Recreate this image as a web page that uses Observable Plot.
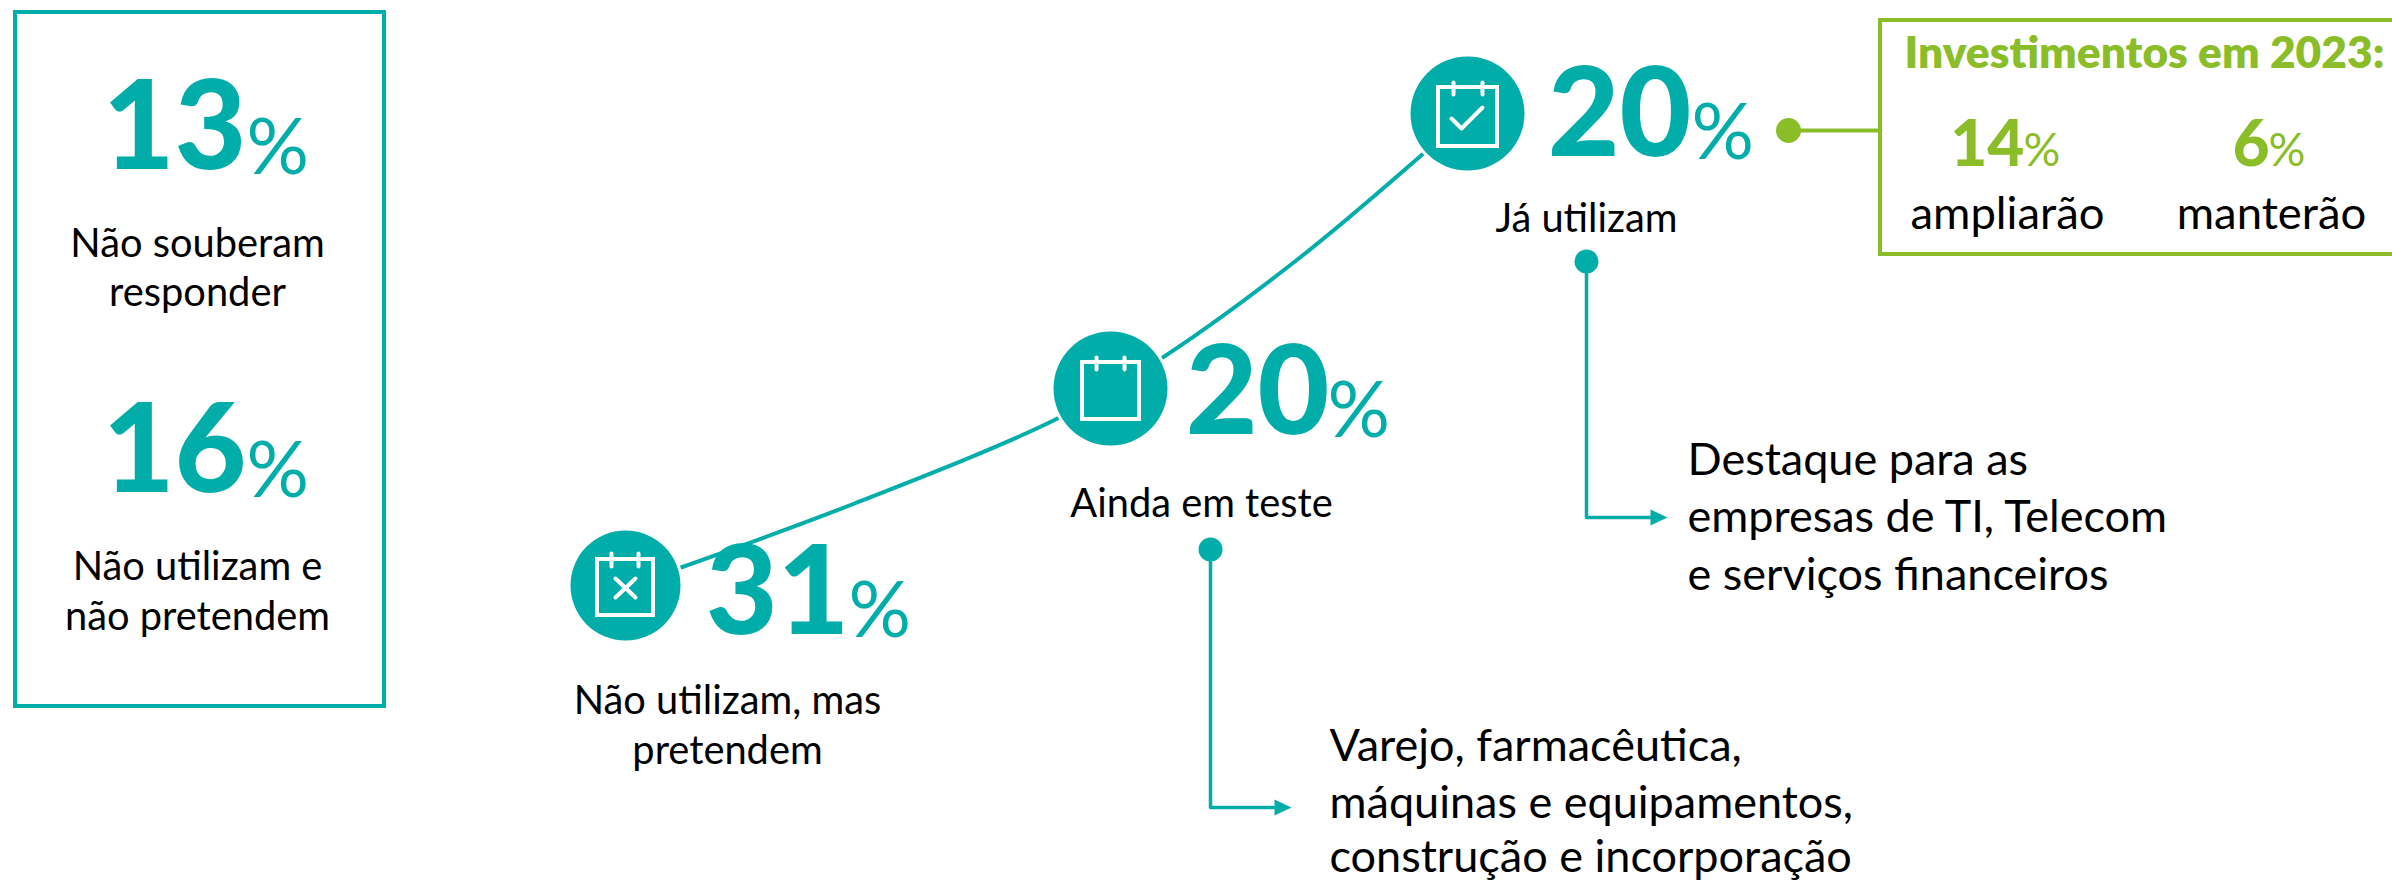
<!DOCTYPE html>
<html lang="pt">
<head>
<meta charset="utf-8">
<style>html,body{margin:0;padding:0;background:#fff;overflow:hidden}svg{display:block}</style>
<script src="https://cdn.jsdelivr.net/npm/d3@7"></script>
<script src="https://cdn.jsdelivr.net/npm/@observablehq/plot@0.6"></script>
</head>
<body>
<script>
// ---- data ----
const stageValues = [31, 20, 20];
const stageLabels = [["Não utilizam, mas", "pretendem"], ["Ainda em teste"], ["Já utilizam"]];
const sideValues = [13, 16];
const sideLabels = [["Não souberam", "responder"], ["Não utilizam e", "não pretendem"]];
const investTitle = "Investimentos em 2023:";
const investValues = [14, 6];
const investLabels = ["ampliarão", "manterão"];
const sectorNotes = [
  ["Varejo, farmacêutica,", "máquinas e equipamentos,", "construção e incorporação"],
  ["Destaque para as", "empresas de TI, Telecom", "e serviços financeiros"]
];

// ---- layout (page coordinates, kept apart from the data) ----
const W = 2392, H = 881;
const teal = "#01ADA9", green = "#8ABD27", ink = "#000";
const font = "Lato, Carlito, Calibri, sans-serif";
const stagePos = [
  {cx: 625, cy: 585, r: 55, numX: 849, pctX: 848, numB: 633, pctB: 636, labX: 727, labB: [713, 763]},
  {cx: 1110, cy: 388, r: 57, numX: 1329, pctX: 1327, numB: 433, pctB: 436, labX: 1201, labB: [516]},
  {cx: 1467, cy: 113, r: 57, numX: 1691, pctX: 1691, numB: 155, pctB: 158, labX: 1586, labB: [231]}
];
const sidePos = [
  {numX: 246, pctX: 246, numB: 168, pctB: 173, labX: 197, labB: [256, 305]},
  {numX: 246, pctX: 246, numB: 491, pctB: 496, labX: 197, labB: [579, 629]}
];
const investPos = [{numX: 2024, numB: 165, labX: 2007}, {numX: 2269, numB: 165, labX: 2271}];
const trend = [[672, 570], [854, 503], [1053, 420], [1153, 363], [1297, 259], [1440, 138]];
const calendars = [
  {x1: 597, x2: 653, y1: 559, y2: 615, r1: 611, r2: 638, rt: 553, rb: 566},
  {x1: 1082, x2: 1139, y1: 362, y2: 419, r1: 1096, r2: 1124, rt: 357, rb: 369},
  {x1: 1438, x2: 1497, y1: 87, y2: 146, r1: 1453, r2: 1482, rt: 82, rb: 94}
];
const BIG = 124, PCT = 78, LAB = 39.8, NOTE = 45, INVL = 45.4, INVT = 44.3, INV = 64, INVP = 46;

// helpers: one text mark per line, anchored on its baseline
const label = (t, x, base, size, o = {}) => Plot.text([t], {
  x: () => x, y: () => base - 0.32 * size, text: d => d, fontSize: size, fontFamily: font,
  fill: ink, textAnchor: "middle", lineAnchor: "middle", fontVariant: "normal", ...o
});
const path = (pts, o) => Plot.line(pts, {x: d => d[0], y: d => d[1], curve: "linear", ...o});

const marks = [];

// left box
marks.push(Plot.rect([0], {x1: () => 15, x2: () => 384, y1: () => 12, y2: () => 706, fill: "none", stroke: teal, strokeWidth: 4}));
sideValues.forEach((v, i) => {
  const p = sidePos[i];
  marks.push(label(String(v), p.numX, p.numB, BIG, {fill: teal, fontWeight: 900, textAnchor: "end"}));
  marks.push(label("%", p.pctX, p.pctB, PCT, {fill: teal, textAnchor: "start"}));
  sideLabels[i].forEach((t, j) => marks.push(label(t, p.labX, p.labB[j], LAB)));
});

// rising curve with three stages
marks.push(Plot.line(trend, {x: d => d[0], y: d => d[1], curve: "catmull-rom", stroke: teal, strokeWidth: 4}));
stageValues.forEach((v, i) => {
  const p = stagePos[i], c = calendars[i];
  marks.push(Plot.dot([0], {x: () => p.cx, y: () => p.cy, r: p.r + 3, fill: "#fff", stroke: "none"}));
  marks.push(Plot.dot([0], {x: () => p.cx, y: () => p.cy, r: p.r, fill: teal, stroke: "none"}));
  marks.push(Plot.rect([0], {x1: () => c.x1, x2: () => c.x2, y1: () => c.y1, y2: () => c.y2, fill: "none", stroke: "#fff", strokeWidth: 4}));
  [c.r1, c.r2].forEach(rx => marks.push(path([[rx, c.rt], [rx, c.rb]], {stroke: "#fff", strokeWidth: 4, strokeLinecap: "round"})));
  marks.push(label(String(v), p.numX, p.numB, BIG, {fill: teal, fontWeight: 900, textAnchor: "end"}));
  marks.push(label("%", p.pctX, p.pctB, PCT, {fill: teal, textAnchor: "start"}));
  stageLabels[i].forEach((t, j) => marks.push(label(t, p.labX, p.labB[j], LAB)));
});
const ln = {stroke: "#fff", strokeWidth: 4, strokeLinecap: "round", strokeLinejoin: "round"};
marks.push(path([[615, 578], [635, 597]], ln), path([[635, 578], [615, 597]], ln));
marks.push(path([[1451, 118], [1461, 128], [1482, 107]], ln));

// connectors with arrows to the sector notes
const conn = {stroke: teal, strokeWidth: 3.5, strokeLinejoin: "round"};
[[1210, 549, 807, 1274, 1291], [1586, 261, 517, 1650, 1667]].forEach(([x, yt, yb, xa, xtip]) => {
  marks.push(Plot.dot([0], {x: () => x, y: () => yt, r: 12, fill: teal, stroke: "none"}));
  marks.push(path([[x, yt], [x, yb], [xa, yb]], conn));
  marks.push(path([[xa, yb - 8], [xtip, yb], [xa, yb + 8], [xa, yb - 8]], {fill: teal, stroke: "none"}));
});
const notePos = [{x: 1329, b: [760, 817, 871]}, {x: 1687, b: [474, 531, 589]}];
sectorNotes.forEach((lines, i) => lines.forEach((t, j) =>
  marks.push(label(t, notePos[i].x, notePos[i].b[j], NOTE, {textAnchor: "start"}))));

// investment box
marks.push(Plot.rect([0], {x1: () => 1880, x2: () => 2440, y1: () => 20, y2: () => 254, fill: "none", stroke: green, strokeWidth: 4}));
marks.push(Plot.dot([0], {x: () => 1788, y: () => 130, r: 12.5, fill: green, stroke: "none"}));
marks.push(path([[1788, 130], [1880, 130]], {stroke: green, strokeWidth: 4}));
marks.push(label(investTitle, 2144, 67, INVT, {fill: green, fontWeight: 800}));
investValues.forEach((v, i) => {
  const p = investPos[i];
  marks.push(label(String(v), p.numX, p.numB, INV, {fill: green, fontWeight: 900, textAnchor: "end"}));
  marks.push(label("%", p.numX - 1, p.numB, INVP, {fill: green, textAnchor: "start"}));
  marks.push(label(investLabels[i], p.labX, 228, INVL));
});

const chart = Plot.plot({
  width: W, height: H, margin: 0,
  x: {domain: [0, W], range: [0, W], axis: null},
  y: {domain: [0, H], range: [0, H], axis: null},
  style: {background: "#fff"},
  marks
});
document.body.append(chart);
</script>
</body>
</html>
